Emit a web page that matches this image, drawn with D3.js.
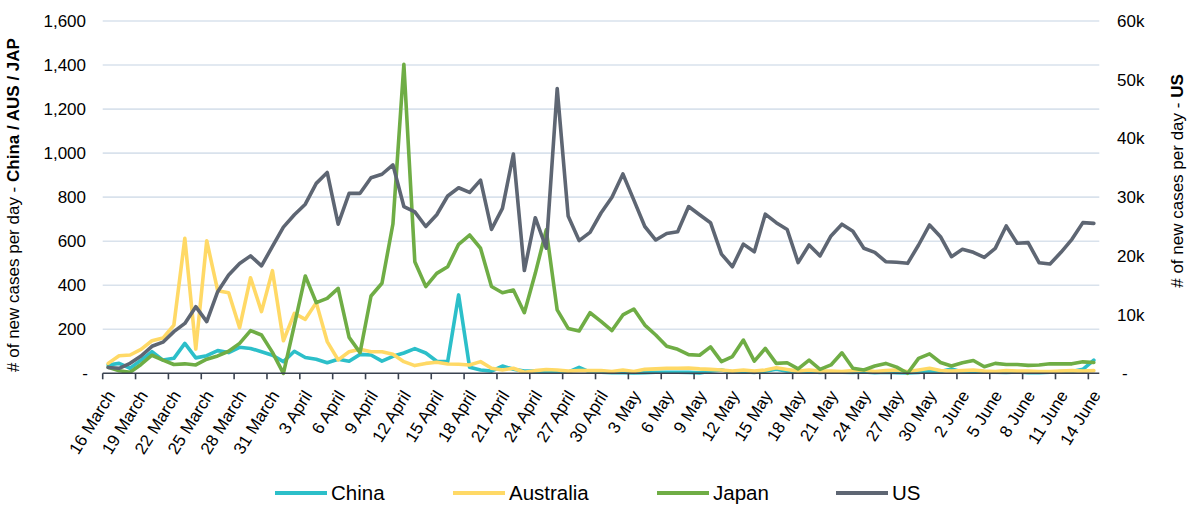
<!DOCTYPE html>
<html>
<head>
<meta charset="utf-8">
<script src="https://cdn.jsdelivr.net/npm/d3@7/dist/d3.min.js"></script>
<style>
  html, body { margin: 0; padding: 0; background: #fff; }
  svg { display: block; font-family: "Liberation Sans", Arial, sans-serif; }
</style>
</head>
<body>
<svg id="chart" width="1194" height="505"></svg>
<script>
// ---- Data (new cases per day, 16 March – 14 June) ----
const startDate = "2020-03-16";
const endDate = "2020-06-14";
const tickLabels = ["16 March","19 March","22 March","25 March","28 March","31 March",
  "3 April","6 April","9 April","12 April","15 April","18 April","21 April","24 April","27 April","30 April",
  "3 May","6 May","9 May","12 May","15 May","18 May","21 May","24 May","27 May","30 May",
  "2 June","5 June","8 June","11 June","14 June"];
const seriesNames = ["China","Australia","Japan","US"];

const china = [38,45,23,60,98,60,68,136,70,80,103,94,118,113,98,82,53,100,72,64,48,64,55,86,83,55,77,92,112,92,
  55,53,356,27,15,10,33,18,10,10,7,7,5,27,5,5,3,3,2,3,5,5,5,4,2,10,15,5,7,4,
  10,18,10,5,8,4,7,5,4,6,3,5,3,2,4,10,8,20,6,5,7,5,4,6,3,3,5,8,8,18,60];
const australia = [45,80,83,109,148,160,219,613,110,602,375,366,207,434,280,466,148,272,245,321,144,61,98,109,98,98,86,53,35,45,
  50,42,41,38,53,23,15,23,5,12,17,15,10,12,12,13,8,15,8,18,20,23,23,24,20,18,15,10,15,10,
  15,25,17,10,15,10,10,8,12,15,8,12,15,8,15,23,13,10,12,15,10,8,12,10,10,8,8,10,12,10,12];
const japan = [27,12,5,40,82,60,40,43,38,64,79,100,136,194,174,95,0,219,442,321,340,386,163,94,351,409,678,1403,507,394,
  454,484,586,628,568,394,366,378,275,454,651,288,204,192,275,236,194,265,292,219,174,123,109,85,82,120,53,76,151,55,
  113,45,48,20,60,18,38,93,23,15,33,45,28,0,68,88,49,33,48,58,30,45,40,40,36,38,43,43,43,52,49];
const us = [1000,850,1700,2950,4600,5300,7100,8500,11350,8800,13900,16750,18700,20000,18300,21600,24900,27000,28800,32350,34200,25400,30650,30650,33300,33900,35500,28400,27500,25000,
  27000,30200,31600,30800,32900,24500,28100,37350,17500,26500,21300,48500,26800,22600,24000,27300,30000,33950,29500,25000,22700,23800,24100,28400,27000,25650,20300,18150,22000,20700,
  27100,25650,24500,18850,21850,20000,23400,25400,24200,21300,20600,19000,18900,18730,21850,25260,23270,19870,21110,20600,19750,21280,25090,22140,22250,18840,18620,20600,22820,25660,25540];
const leftTicks = [0,200,400,600,800,1000,1200,1400,1600];
const rightTicks = [0,10000,20000,30000,40000,50000,60000];

// ---- Categories ----
const parse = d3.utcParse("%Y-%m-%d");
const fmtDay = d3.utcFormat("%-d %B");
const categories = d3.utcDay.range(parse(startDate), d3.utcDay.offset(parse(endDate), 1)).map(fmtDay);

// ---- Layout ----
const svg = d3.select("#chart");
const plot = { left: 102.7, right: 1099.3, top: 21, bottom: 373.3 };
const colors = { China: "#2CBFC9", Australia: "#FFD966", Japan: "#6FAD45", US: "#5E6673" };

const x = d3.scaleBand().domain(categories).range([plot.left, plot.right]).paddingInner(0).paddingOuter(0);
const cx = d => x(d) + x.bandwidth() / 2;
const yL = d3.scaleLinear().domain([0, 1600]).range([plot.bottom, plot.top]);
const yR = d3.scaleLinear().domain([0, 60000]).range([plot.bottom, plot.top]);

// gridlines
svg.append("g").selectAll("line").data(leftTicks.filter(v => v > 0)).join("line")
  .attr("x1", plot.left).attr("x2", plot.right)
  .attr("y1", d => yL(d)).attr("y2", d => yL(d))
  .attr("stroke", "#D9E2EC").attr("stroke-width", 1.6);

// left axis labels
const fmtL = d3.format(",");
svg.append("g").selectAll("text").data(leftTicks).join("text")
  .attr("x", d => d === 0 ? 88 : 86).attr("y", d => yL(d))
  .attr("dy", "0.35em").attr("text-anchor", "end")
  .attr("font-size", 17).attr("fill", "#000")
  .text(d => d === 0 ? "-" : fmtL(d));

// right axis labels
svg.append("g").selectAll("text").data(rightTicks).join("text")
  .attr("x", d => d === 0 ? 1122 : 1117).attr("y", d => yR(d))
  .attr("dy", "0.35em").attr("text-anchor", "start")
  .attr("font-size", 17).attr("fill", "#000")
  .text(d => d === 0 ? "-" : (d / 1000) + "k");

// series lines (spreadsheet order: first series at the bottom)
const seriesData = { China: china, Australia: australia, Japan: japan, US: us };
seriesNames.forEach(name => {
  const scale = name === "US" ? yR : yL;
  const line = d3.line().x((d, i) => cx(categories[i])).y(d => scale(d));
  svg.append("path").datum(seriesData[name])
    .attr("d", line).attr("fill", "none")
    .attr("stroke", colors[name]).attr("stroke-width", 3.6)
    .attr("stroke-linejoin", "round").attr("stroke-linecap", "round");
});

// x axis
const ax = svg.append("g");
ax.append("line").attr("x1", plot.left).attr("x2", plot.right)
  .attr("y1", plot.bottom).attr("y2", plot.bottom)
  .attr("stroke", "#3A4250").attr("stroke-width", 1.6);
const tickCats = categories.filter((c, i) => i % 3 === 0);
ax.selectAll("line.tick").data(tickCats).join("line").attr("class", "tick")
  .attr("x1", d => x(d)).attr("x2", d => x(d))
  .attr("y1", plot.bottom).attr("y2", plot.bottom + 6)
  .attr("stroke", "#3A4250").attr("stroke-width", 1.6);
ax.selectAll("text").data(tickLabels).join("text")
  .attr("transform", (d, i) => `translate(${x(tickCats[i]) + 13},${plot.bottom + 22}) rotate(-58)`)
  .attr("text-anchor", "end").attr("font-size", 17).attr("fill", "#000")
  .text(d => d);

// axis titles
const lt = svg.append("text").attr("transform", "translate(19,205) rotate(-90)")
  .attr("text-anchor", "middle").attr("font-size", 17).attr("fill", "#000");
lt.append("tspan").text("# of new cases per day - ");
lt.append("tspan").attr("font-weight", "bold").text("China / AUS / JAP");
const rt = svg.append("text").attr("transform", "translate(1183,181) rotate(-90)")
  .attr("text-anchor", "middle").attr("font-size", 17).attr("fill", "#000");
rt.append("tspan").text("# of new cases per day - ");
rt.append("tspan").attr("font-weight", "bold").text("US");

// legend
const legendX = [275, 453, 657, 836];
const lg = svg.append("g");
seriesNames.forEach((name, i) => {
  lg.append("line").attr("x1", legendX[i]).attr("x2", legendX[i] + 52)
    .attr("y1", 493).attr("y2", 493)
    .attr("stroke", colors[name]).attr("stroke-width", 4);
  lg.append("text").attr("x", legendX[i] + 56).attr("y", 493).attr("dy", "0.35em")
    .attr("font-size", 20.5).attr("fill", "#000").text(name);
});
</script>
</body>
</html>
